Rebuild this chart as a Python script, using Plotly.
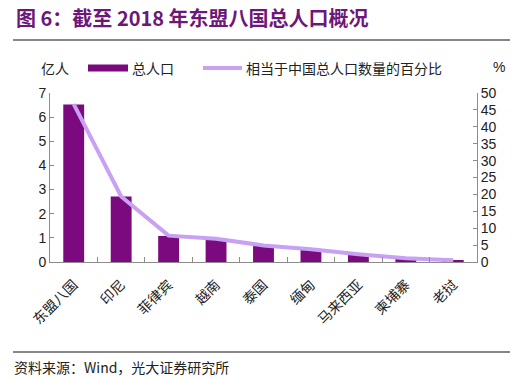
import plotly.graph_objects as go

categories = ["东盟八国", "印尼", "菲律宾", "越南", "泰国", "缅甸", "马来西亚", "柬埔寨", "老挝"]
population = [6.52, 2.71, 1.08, 0.95, 0.68, 0.53, 0.32, 0.15, 0.07]
pct_china = [46.7, 19.4, 7.8, 6.9, 4.9, 3.8, 2.3, 1.1, 0.5]

left_ticks = list(range(0, 8))
right_ticks = list(range(0, 55, 5))

BAR = "#7b0a7e"
LINE = "#c8a0f4"
AX = "#8c8c8c"
FONT = "Liberation Sans, Arial, Noto Sans CJK SC"
CJK = "Noto Sans CJK SC"

fig = go.Figure()
fig.add_trace(go.Bar(x=categories, y=population, marker=dict(color=BAR, line=dict(width=0)),
                     name="总人口", showlegend=False, yaxis="y"))
fig.add_trace(go.Scatter(x=categories, y=pct_china, mode="lines", line=dict(color=LINE, width=4),
                         name="相当于中国总人口数量的百分比", showlegend=False, yaxis="y2"))

L, R, T, B = 50, 54, 93, 117
W, H = 531, 379
pw, ph = W - L - R, H - T - B

def px(x):
    return (x - L) / pw

def py(y):
    return (H - B - y) / ph

shapes = [
    dict(type="line", xref="paper", yref="paper", x0=px(13), x1=px(510), y0=py(40), y1=py(40),
         line=dict(color="#111", width=1.2)),
    dict(type="line", xref="paper", yref="paper", x0=px(13), x1=px(510), y0=py(352), y1=py(352),
         line=dict(color="#111", width=1.2)),
    dict(type="rect", xref="paper", yref="paper", x0=px(88), x1=px(128), y0=py(71.5), y1=py(64.5),
         fillcolor=BAR, line=dict(width=0)),
    dict(type="line", xref="paper", yref="paper", x0=px(203), x1=px(242), y0=py(68), y1=py(68),
         line=dict(color=LINE, width=4)),
]

annotations = [
    dict(text="<b>图 6：截至 2018 年东盟八国总人口概况</b>", xref="paper", yref="paper",
         x=px(14), y=py(18), xanchor="left", yanchor="middle", showarrow=False,
         font=dict(family=CJK, size=20, color="#6e167a")),
    dict(text="亿人", xref="paper", yref="paper", x=px(55), y=py(68), xanchor="center", yanchor="middle",
         showarrow=False, font=dict(family=CJK, size=14, color="#222")),
    dict(text="%", xref="paper", yref="paper", x=px(499), y=py(67), xanchor="center", yanchor="middle",
         showarrow=False, font=dict(family=FONT, size=14, color="#222")),
    dict(text="总人口", xref="paper", yref="paper", x=px(130), y=py(68), xanchor="left", yanchor="middle",
         showarrow=False, font=dict(family=CJK, size=14, color="#222")),
    dict(text="相当于中国总人口数量的百分比", xref="paper", yref="paper", x=px(244), y=py(68),
         xanchor="left", yanchor="middle", showarrow=False, font=dict(family=CJK, size=14, color="#222")),
    dict(text="资料来源：Wind，光大证券研究所", xref="paper", yref="paper", x=px(12), y=py(367),
         xanchor="left", yanchor="middle", showarrow=False, font=dict(family=CJK, size=14, color="#222")),
]

fig.update_layout(
    width=W, height=H,
    margin=dict(l=L, r=R, t=T, b=B, pad=0),
    paper_bgcolor="white", plot_bgcolor="white",
    bargap=0.56,
    showlegend=False,
    font=dict(family=FONT, size=13, color="#222"),
    xaxis=dict(type="category", tickangle=-45, showgrid=False, showline=True, linecolor=AX, linewidth=1,
               ticks="inside", tickson="boundaries", ticklen=5, tickcolor=AX, ticklabelstandoff=8,
               tickfont=dict(family=CJK, size=14, color="#222")),
    yaxis=dict(range=[0, 7], tickvals=left_ticks, showgrid=False, showline=True, linecolor=AX,
               linewidth=1, ticks="inside", ticklen=4, tickcolor=AX, zeroline=False,
               tickfont=dict(family=FONT, size=14, color="#222")),
    yaxis2=dict(range=[0, 50], tickvals=right_ticks, overlaying="y", side="right", showgrid=False,
                showline=True, linecolor=AX, linewidth=1, ticks="inside", ticklen=4, tickcolor=AX,
                zeroline=False, tickfont=dict(family=FONT, size=14, color="#222")),
    shapes=shapes,
    annotations=annotations,
)

fig.write_html("out.html", config={"displayModeBar": False},
               post_script="document.body.style.margin='0';document.body.style.overflow='hidden';")
